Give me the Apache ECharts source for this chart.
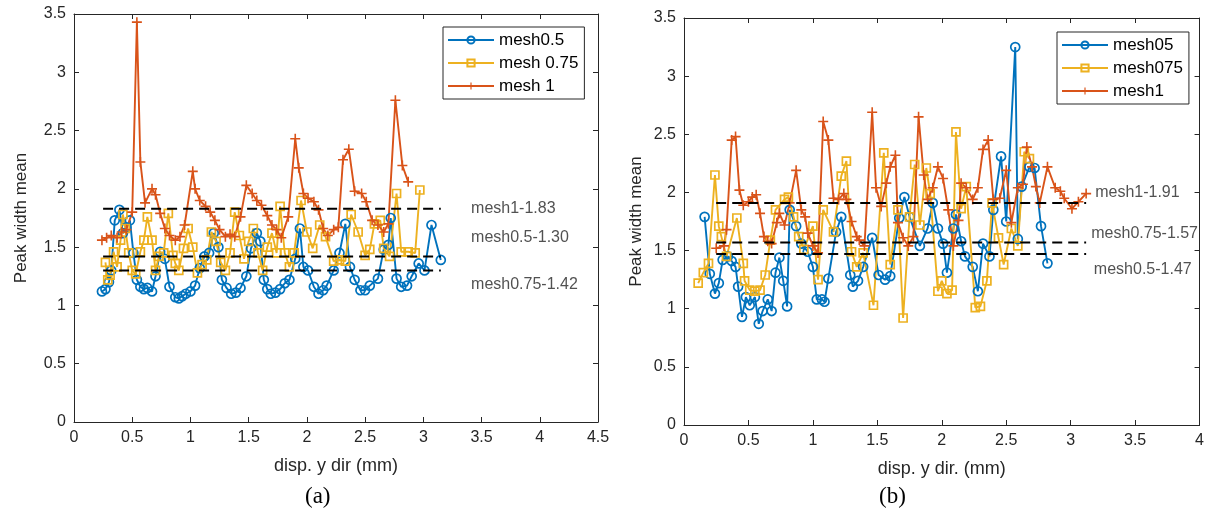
<!DOCTYPE html>
<html>
<head>
<meta charset="utf-8">
<script src="https://cdn.jsdelivr.net/npm/echarts@6/dist/echarts.min.js"></script>
<style>
  html, body { margin: 0; padding: 0; background: #fff; }
  #chart { width: 1207px; height: 516px; }
</style>
</head>
<body>
<div id="chart"></div>
<script>
// ---- panel (a): peak width mean vs displacement ----
const aMesh05X = [0.24,0.27,0.30,0.32,0.35,0.39,0.42,0.45,0.48,0.51,0.54,0.57,0.60,0.63,0.67,0.70,0.74,0.78,0.82,0.87,0.90,0.93,0.96,1.00,1.04,1.08,1.12,1.16,1.20,1.24,1.27,1.31,1.35,1.39,1.43,1.48,1.52,1.57,1.60,1.63,1.66,1.69,1.73,1.77,1.81,1.85,1.90,1.94,1.97,2.01,2.06,2.10,2.14,2.17,2.23,2.28,2.33,2.37,2.41,2.46,2.50,2.54,2.61,2.66,2.70,2.72,2.77,2.81,2.86,2.90,2.96,3.01,3.07,3.15];
const aMesh05Y = [1.12,1.14,1.20,1.30,1.73,1.82,1.62,1.67,1.73,1.45,1.22,1.16,1.14,1.15,1.12,1.25,1.46,1.40,1.16,1.07,1.06,1.08,1.10,1.12,1.17,1.32,1.42,1.45,1.62,1.50,1.22,1.15,1.10,1.11,1.15,1.25,1.49,1.62,1.55,1.22,1.14,1.10,1.11,1.14,1.19,1.22,1.40,1.66,1.33,1.30,1.16,1.10,1.13,1.17,1.30,1.45,1.70,1.33,1.22,1.13,1.13,1.17,1.23,1.48,1.52,1.75,1.23,1.16,1.17,1.25,1.36,1.30,1.69,1.39];

const aMesh075X = [0.27,0.29,0.31,0.34,0.37,0.40,0.42,0.44,0.47,0.50,0.53,0.57,0.60,0.63,0.67,0.70,0.73,0.77,0.81,0.85,0.87,0.90,0.94,0.98,1.02,1.06,1.10,1.14,1.18,1.22,1.26,1.30,1.34,1.38,1.42,1.46,1.50,1.54,1.58,1.62,1.66,1.70,1.74,1.77,1.81,1.85,1.89,1.95,2.00,2.05,2.11,2.16,2.23,2.28,2.33,2.38,2.44,2.50,2.54,2.58,2.63,2.66,2.71,2.77,2.81,2.87,2.93,2.97];
const aMesh075Y = [1.37,1.22,1.26,1.46,1.33,1.56,1.78,1.66,1.45,1.30,1.27,1.46,1.56,1.76,1.56,1.30,1.42,1.45,1.79,1.43,1.36,1.30,1.49,1.66,1.50,1.28,1.35,1.39,1.63,1.55,1.37,1.30,1.45,1.80,1.60,1.40,1.55,1.66,1.45,1.30,1.50,1.62,1.45,1.85,1.45,1.33,1.45,1.90,1.63,1.49,1.69,1.59,1.38,1.39,1.38,1.78,1.63,1.43,1.48,1.70,1.73,1.49,1.42,1.96,1.46,1.46,1.45,1.99];

const aMesh1X = [0.24,0.28,0.32,0.37,0.41,0.45,0.50,0.54,0.57,0.61,0.67,0.70,0.74,0.78,0.82,0.87,0.91,0.95,1.02,1.04,1.08,1.13,1.17,1.21,1.25,1.30,1.34,1.38,1.43,1.48,1.53,1.57,1.61,1.66,1.70,1.74,1.78,1.84,1.90,1.93,1.97,2.01,2.06,2.10,2.14,2.18,2.23,2.27,2.31,2.36,2.41,2.47,2.51,2.56,2.61,2.66,2.70,2.76,2.82,2.87];
const aMesh1Y = [1.56,1.58,1.60,1.58,1.63,1.65,1.80,3.43,2.23,1.88,2.00,1.95,1.79,1.66,1.60,1.56,1.59,1.69,2.15,2.00,1.90,1.85,1.80,1.73,1.65,1.59,1.61,1.59,1.76,2.03,1.96,1.90,1.86,1.77,1.69,1.65,1.58,1.76,2.43,2.18,1.96,1.92,1.89,1.82,1.66,1.60,1.65,1.67,2.25,2.34,1.98,1.96,1.89,1.73,1.69,1.63,1.70,2.76,2.20,2.06];

// mean levels drawn as dashed references
const aMeanNames = ['mesh1-1.83', 'mesh0.5-1.30', 'mesh0.75-1.42'];
const aMeanValues = [1.83, 1.42, 1.30];
const aMeanSpan = [0.25, 3.15];

// ---- panel (b) ----
const bMesh05X = [0.16,0.20,0.24,0.27,0.30,0.34,0.37,0.40,0.42,0.45,0.48,0.51,0.55,0.58,0.61,0.65,0.68,0.71,0.74,0.77,0.80,0.82,0.87,0.91,0.96,1.00,1.03,1.07,1.09,1.12,1.18,1.22,1.29,1.31,1.35,1.39,1.46,1.51,1.56,1.60,1.67,1.71,1.75,1.83,1.89,1.93,1.97,2.01,2.04,2.09,2.11,2.15,2.18,2.24,2.28,2.32,2.37,2.40,2.46,2.50,2.57,2.59,2.62,2.68,2.72,2.77,2.82];
const bMesh05Y = [1.79,1.30,1.13,1.22,1.42,1.45,1.41,1.36,1.19,0.93,1.10,1.03,1.10,0.87,0.98,1.08,0.98,1.31,1.44,1.24,1.02,1.85,1.71,1.56,1.49,1.36,1.08,1.08,1.06,1.26,1.66,1.79,1.29,1.19,1.24,1.36,1.61,1.29,1.25,1.28,1.78,1.96,1.79,1.54,1.69,1.91,1.69,1.56,1.31,1.69,1.81,1.58,1.45,1.36,1.15,1.56,1.45,1.85,2.31,1.75,3.25,1.60,2.05,2.22,2.21,1.71,1.39];

const bMesh075X = [0.11,0.15,0.19,0.24,0.27,0.29,0.33,0.41,0.46,0.47,0.51,0.55,0.59,0.63,0.67,0.71,0.78,0.81,0.85,0.89,0.93,1.00,1.04,1.08,1.16,1.22,1.26,1.30,1.34,1.39,1.47,1.55,1.60,1.66,1.70,1.75,1.79,1.83,1.88,1.91,1.97,2.00,2.04,2.08,2.11,2.15,2.19,2.26,2.30,2.35,2.39,2.44,2.48,2.54,2.59,2.64,2.68];
const bMesh075Y = [1.22,1.31,1.39,2.15,1.71,1.62,1.45,1.78,1.39,1.24,1.16,1.15,1.16,1.29,1.59,1.85,1.94,1.96,1.79,1.62,1.51,1.71,1.25,1.85,1.66,2.14,2.27,1.49,1.36,1.48,1.03,2.34,1.38,1.85,0.92,1.79,2.24,1.72,2.21,1.99,1.15,1.24,1.13,1.16,2.52,1.86,2.05,1.01,1.02,1.24,1.91,1.61,1.38,1.69,1.54,2.35,2.29];

const bMesh1X = [0.25,0.31,0.33,0.37,0.40,0.43,0.46,0.50,0.53,0.56,0.59,0.62,0.65,0.68,0.72,0.74,0.78,0.82,0.87,0.91,0.94,0.96,1.00,1.04,1.08,1.12,1.16,1.20,1.24,1.26,1.30,1.34,1.36,1.40,1.46,1.49,1.53,1.57,1.60,1.64,1.66,1.70,1.74,1.78,1.82,1.86,1.89,1.93,1.97,2.01,2.05,2.09,2.13,2.15,2.19,2.24,2.28,2.32,2.36,2.40,2.45,2.50,2.54,2.59,2.63,2.66,2.70,2.73,2.76,2.82,2.88,2.92,2.95,3.01,3.06,3.12];
const bMesh1Y = [1.52,1.54,1.68,2.45,2.48,2.02,1.89,1.92,1.96,1.98,1.82,1.62,1.58,1.56,1.74,1.82,1.72,1.91,2.19,1.85,1.79,1.65,1.54,1.48,2.61,2.45,1.95,1.94,1.99,1.94,1.75,1.62,1.59,1.54,2.69,2.04,1.88,2.08,2.22,2.32,1.74,1.61,1.54,1.62,2.65,2.15,1.94,2.04,2.22,2.12,1.85,1.54,1.76,2.08,2.04,1.94,2.04,2.37,2.45,1.94,1.95,2.19,1.74,2.04,2.07,2.39,2.22,2.05,1.91,2.22,2.04,2.01,1.95,1.86,1.92,1.99];

const bMeanNames = ['mesh1-1.91', 'mesh0.75-1.57', 'mesh0.5-1.47'];
const bMeanValues = [1.91, 1.57, 1.47];
const bMeanSpan = [0.25, 3.12];

const BLUE = '#0072BD', ORANGE = '#D95319', YELLOW = '#EDB120', AXIS = '#262626';
const FONT = '"Liberation Sans", Arial, Helvetica, sans-serif';
const PLUS = 'path://M-0.8,-5H0.8V-0.8H5V0.8H0.8V5H-0.8V0.8H-5V-0.8H-0.8Z';

function pairs(xs, ys) { return xs.map((x, i) => [x, ys[i]]); }

function dataSeries(name, xs, ys, color, marker, gi) {
  const isPlus = marker === 'plus';
  return {
    type: 'line', name, xAxisIndex: gi * 2, yAxisIndex: gi * 2,
    data: pairs(xs, ys),
    symbol: isPlus ? PLUS : marker,
    symbolSize: isPlus ? 10 : (marker === 'circle' ? 9 : 8),
    showAllSymbol: true,
    lineStyle: { color, width: 1.9 },
    itemStyle: isPlus ? { color, borderWidth: 0 } : { color: 'rgba(255,255,255,0)', borderColor: color, borderWidth: 1.7 },
    emphasis: { disabled: true },
    animation: false, z: 2
  };
}

function meanLines(values, span, gi) {
  return values.map(v => ({
    type: 'line', xAxisIndex: gi * 2, yAxisIndex: gi * 2,
    data: [[span[0], v], [span[1], v]],
    symbol: 'none', silent: true, animation: false, z: 4,
    lineStyle: { color: '#000', width: 2, type: [10, 6] }
  }));
}

function meanLabels(names, anchors, gi) {
  return {
    type: 'scatter', xAxisIndex: gi * 2, yAxisIndex: gi * 2,
    symbolSize: 0, silent: true, animation: false, z: 5,
    data: anchors.map((p, i) => ({
      value: p,
      label: { show: true, position: 'right', distance: 0, formatter: names[i],
               color: '#262626', fontSize: 16, fontFamily: FONT }
    }))
  };
}

function xAxisPair(gi, max, name) {
  const common = { type: 'value', gridIndex: gi, min: 0, max, interval: 0.5,
    axisLine: { show: true, onZero: false, lineStyle: { color: AXIS, width: 1 } },
    axisTick: { show: true, inside: true, length: 5, lineStyle: { color: AXIS } },
    splitLine: { show: false } };
  return [
    Object.assign({}, common, { position: 'bottom', name, nameLocation: 'middle', nameGap: 35,
      nameTextStyle: { fontSize: 18, color: '#262626', fontFamily: FONT },
      axisLabel: { fontSize: 16, color: '#262626', fontFamily: FONT, margin: 8 } }),
    Object.assign({}, common, { position: 'top', axisLabel: { show: false } })
  ];
}

function yAxisPair(gi, gap) {
  const common = { type: 'value', gridIndex: gi, min: 0, max: 3.5, interval: 0.5,
    axisLine: { show: true, onZero: false, lineStyle: { color: AXIS, width: 1 } },
    axisTick: { show: true, inside: true, length: 5, lineStyle: { color: AXIS } },
    splitLine: { show: false } };
  return [
    Object.assign({}, common, { position: 'left', name: 'Peak width mean', nameLocation: 'middle', nameGap: gap,
      nameTextStyle: { fontSize: 17, color: '#262626', fontFamily: FONT },
      axisLabel: { fontSize: 16, color: '#262626', fontFamily: FONT, margin: 8 } }),
    Object.assign({}, common, { position: 'right', axisLabel: { show: false } })
  ];
}

function legend(names, left, top) {
  return {
    data: names, orient: 'vertical', left, top,
    backgroundColor: '#fff', borderColor: AXIS, borderWidth: 1, borderRadius: 0,
    padding: [3, 6, 3, 4], itemGap: 3, itemWidth: 46, itemHeight: 9,
    selectedMode: false,
    textStyle: { fontSize: 17, color: '#000', fontFamily: FONT, lineHeight: 20 }
  };
}

const xa = xAxisPair(0, 4.5, 'disp. y dir (mm)');
const xb = xAxisPair(1, 4, 'disp. y dir. (mm)');
const ya = yAxisPair(0, 44);
const yb = yAxisPair(1, 39);

const option = {
  backgroundColor: '#fff',
  animation: false,
  grid: [
    { left: 74, right: 609, top: 14, bottom: 94 },
    { left: 684, right: 6, top: 18, bottom: 91 }
  ],
  xAxis: [xa[0], xa[1], xb[0], xb[1]],
  yAxis: [ya[0], ya[1], yb[0], yb[1]],
  legend: [
    legend(['mesh0.5', 'mesh 0.75', 'mesh 1'], 443, 27),
    legend(['mesh05', 'mesh075', 'mesh1'], 1057, 32)
  ],
  series: [
    dataSeries('mesh0.5', aMesh05X, aMesh05Y, BLUE, 'circle', 0),
    dataSeries('mesh 0.75', aMesh075X, aMesh075Y, YELLOW, 'rect', 0),
    dataSeries('mesh 1', aMesh1X, aMesh1Y, ORANGE, 'plus', 0),
    ...meanLines(aMeanValues, aMeanSpan, 0),
    meanLabels(aMeanNames, [[3.41, 1.83], [3.41, 1.58], [3.41, 1.175]], 0),
    dataSeries('mesh05', bMesh05X, bMesh05Y, BLUE, 'circle', 1),
    dataSeries('mesh075', bMesh075X, bMesh075Y, YELLOW, 'rect', 1),
    dataSeries('mesh1', bMesh1X, bMesh1Y, ORANGE, 'plus', 1),
    ...meanLines(bMeanValues, bMeanSpan, 1),
    meanLabels(bMeanNames, [[3.19, 2.0], [3.16, 1.65], [3.18, 1.335]], 1)
  ],
  graphic: [
    { type: 'text', left: 305, top: 485, style: { text: '(a)', font: '23px "Liberation Serif", "Times New Roman", serif', fill: '#000' } },
    { type: 'text', left: 879, top: 485, style: { text: '(b)', font: '23px "Liberation Serif", "Times New Roman", serif', fill: '#000' } }
  ]
};

const chart = echarts.init(document.getElementById('chart'), null, { renderer: 'canvas' });
chart.setOption(option);
</script>
</body>
</html>
